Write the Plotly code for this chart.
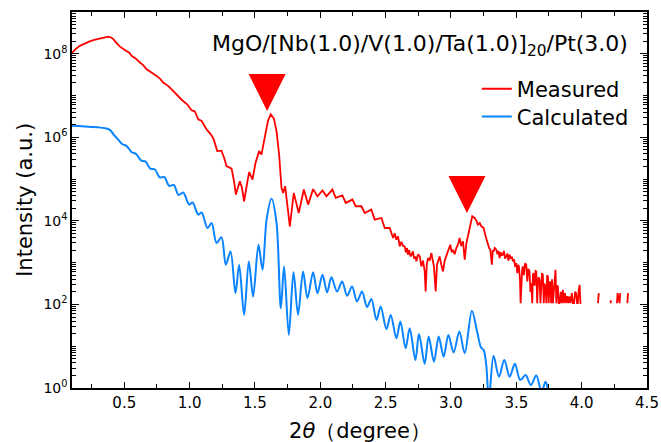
import plotly.graph_objects as go

# ---------------- data ----------------
# Measured curve: 2theta (deg) and log10(intensity); None = zero counts (not drawn on a log axis)
meas_x = [0.100, 0.130, 0.160, 0.190, 0.230, 0.270, 0.310, 0.350, 0.378, 0.400,
          0.416, 0.440, 0.467, 0.490, 0.518, 0.540, 0.556, 0.590, 0.620, 0.645,
          0.671, 0.715, 0.748, 0.775, 0.798, 0.840, 0.874, 0.905, 0.939, 0.981,
          1.015, 1.040, 1.066, 1.092, 1.130, 1.165, 1.185, 1.211, 1.244, 1.265,
          1.283, 1.321, 1.340, 1.354, 1.384, 1.400, 1.417, 1.440, 1.456, 1.481,
          1.505, 1.532, 1.550, 1.575, 1.600, 1.621, 1.645, 1.665, 1.685, 1.703,
          1.716, 1.731, 1.754, 1.767, 1.797, 1.835, 1.874, 1.907, 1.945, 1.978,
          2.017, 2.047, 2.093, 2.118, 2.169, 2.195, 2.246, 2.271, 2.315, 2.340,
          2.391, 2.416, 2.468, 2.493, 2.531, 2.557, 2.570, 2.582, 2.595, 2.602,
          2.608, 2.620, 2.633, 2.646, 2.655, 2.664, 2.671, 2.680, 2.690, 2.700,
          2.709, 2.718, 2.727, 2.735, 2.748, 2.761, 2.768, 2.773, 2.786, 2.799,
          2.806, 2.815, 2.824, 2.837, 2.850, 2.862, 2.870, 2.883, 2.893, 2.903,
          2.913, 2.926, 2.939, 2.952, 2.965, 2.980, 2.995, 3.005, 3.015, 3.028,
          3.041, 3.055, 3.066, 3.079, 3.092, 3.105, 3.118, 3.138, 3.163, 3.181,
          3.195, 3.206, 3.220, 3.232, 3.250, 3.265, 3.283, 3.292, 3.301, 3.313,
          3.320, 3.326, 3.335, 3.347, 3.356, 3.364, 3.372, 3.380, 3.389, 3.397,
          3.405, 3.414, 3.423, 3.432, 3.440, 3.449, 3.457, 3.466, 3.474, 3.483,
          3.491, 3.500, 3.508, 3.515, 3.520, 3.528, 3.533, 3.538, 3.545, 3.550,
          3.558, 3.566, 3.576, 3.584, 3.592, 3.601, 3.608, 3.615, 3.622, 3.627,
          3.632, 3.640, 3.647, 3.653, 3.660, 3.666, 3.672, 3.678, 3.685, 3.690,
          3.697, 3.703, 3.710, 3.716, 3.724, 3.730, 3.736, 3.742, 3.748, 3.754,
          3.760, 3.767, 3.773, 3.780, 3.790, 3.800, 3.806, 3.812, 3.818, 3.824,
          3.831, 3.840, 3.848, 3.856, 3.864, 3.872, 3.882, 3.890, 3.898, 3.907,
          3.915, 3.925, 3.933, 3.942, 3.950, 3.958, 3.965, 3.971, 3.978, 3.984,
          3.991, 3.997, 4.060, 4.125, 4.131, 4.180, 4.220, 4.225, 4.250, 4.270,
          4.275, 4.290, 4.295, 4.320, 4.350, 4.355]
meas_log = [8.02, 8.12, 8.19, 8.24, 8.29, 8.33, 8.36, 8.39, 8.41, 8.39,
            8.35, 8.26, 8.17, 8.12, 8.07, 8.02, 7.95, 7.88, 7.79, 7.73,
            7.63, 7.55, 7.47, 7.40, 7.31, 7.22, 7.11, 7.00, 6.90, 6.79,
            6.65, 6.62, 6.43, 6.39, 6.19, 6.06, 5.95, 5.67, 5.68, 5.50,
            5.31, 5.25, 4.95, 4.63, 4.95, 4.80, 4.47, 4.90, 5.17, 4.99,
            5.40, 5.67, 5.59, 6.00, 6.40, 6.55, 6.45, 6.15, 5.59, 4.79,
            4.67, 4.83, 4.30, 3.87, 4.67, 4.19, 4.75, 4.39, 4.76, 4.59,
            4.73, 4.59, 4.75, 4.55, 4.61, 4.43, 4.51, 4.35, 4.35, 4.19,
            4.27, 4.03, 4.07, 3.83, 3.83, 3.59, 3.70, 3.55, 3.63, 3.45,
            3.39, 3.50, 3.40, 3.39, 3.25, 3.35, 3.19, 3.30, 3.15, 3.20,
            3.27, 3.10, 3.15, 3.03, 3.20, 3.15, 2.95, 2.91, 3.05, 2.79,
            2.31, 2.95, 3.11, 3.05, 3.23, 3.00, 2.90, 2.31, 2.95, 3.05,
            3.15, 2.95, 2.79, 3.05, 3.19, 3.30, 3.43, 3.25, 3.31, 3.20,
            3.35, 3.45, 3.59, 3.40, 3.51, 3.07, 3.47, 3.79, 4.11, 4.07,
            4.00, 3.91, 3.95, 3.87, 3.83, 3.63, 3.43, 3.35, 3.31, 2.95,
            3.30, 3.27, 3.35, 3.31, 3.20, 3.28, 3.11, 3.25, 3.18, 3.19,
            3.28, 3.10, 3.15, 3.22, 3.05, 3.19, 3.10, 3.14, 3.03, 3.08,
            2.90, 2.99, 2.75, 2.95, 2.91, 2.60, 2.03, 2.60, 2.85, 2.91,
            2.70, 2.98, 2.95, 2.55, 2.85, 2.79, 2.30, 2.51, 2.03, 2.70,
            2.75, 2.45, 2.80, 2.79, 2.03, 2.55, 2.65, 2.59, 2.03, 2.40,
            2.75, 2.71, 2.03, 2.50, 2.39, 2.03, 2.70, 2.67, 2.03, 2.55,
            2.51, 2.03, 2.60, 2.03, 2.40, 2.83, 2.03, 2.45, 2.43, 2.03,
            2.03, 2.30, 2.03, 2.35, 2.03, 2.27, 2.03, 2.20, 2.03, 2.19,
            2.03, 2.27, 2.03, 2.03, 2.30, 2.27, 2.03, 2.03, 2.35, 2.47,
            2.03, 2.03, None, 2.03, 2.27, None, 2.03, 2.10, None, 2.03,
            2.27, 2.03, 2.27, None, 2.03, 2.27]

# Calculated curve
calc_x = [0.100, 0.150, 0.200, 0.250, 0.300, 0.350, 0.390, 0.420, 0.447, 0.483,
          0.519, 0.555, 0.591, 0.627, 0.663, 0.699, 0.735, 0.771, 0.807, 0.843,
          0.879, 0.915, 0.951, 0.997, 1.023, 1.066, 1.092, 1.137, 1.168, 1.206,
          1.244, 1.277, 1.313, 1.351, 1.379, 1.417, 1.453, 1.486, 1.527, 1.558,
          1.589, 1.627, 1.665, 1.698, 1.723, 1.759, 1.795, 1.830, 1.868, 1.902,
          1.945, 1.978, 2.017, 2.052, 2.085, 2.128, 2.167, 2.205, 2.243, 2.281,
          2.319, 2.358, 2.391, 2.430, 2.462, 2.506, 2.539, 2.582, 2.613, 2.653,
          2.684, 2.728, 2.755, 2.799, 2.829, 2.870, 2.906, 2.944, 2.980, 3.020,
          3.064, 3.105, 3.160, 3.200, 3.230, 3.250, 3.270, 3.290, 3.326, 3.367,
          3.408, 3.449, 3.489, 3.530, 3.571, 3.611, 3.653, 3.693, 3.724, 3.760,
          3.800]
calc_log = [6.28, 6.27, 6.26, 6.25, 6.24, 6.22, 6.18, 6.06, 5.97, 5.84,
            5.79, 5.65, 5.60, 5.45, 5.42, 5.25, 5.23, 5.04, 5.05, 4.84,
            4.86, 4.62, 4.68, 4.39, 4.44, 4.15, 4.20, 3.83, 3.95, 3.47,
            3.61, 2.95, 3.27, 2.27, 2.95, 1.75, 3.03, 2.19, 3.43, 2.83,
            4.03, 4.53, 3.95, 1.91, 2.91, 1.27, 2.77, 1.75, 2.79, 2.15,
            2.77, 2.27, 2.71, 2.29, 2.65, 2.31, 2.55, 2.21, 2.43, 2.07,
            2.31, 1.94, 2.13, 1.63, 1.95, 1.41, 1.75, 1.19, 1.59, 0.95,
            1.43, 0.67, 1.29, 0.58, 1.23, 0.63, 1.23, 0.75, 1.27, 0.85,
            1.35, 0.83, 1.85, 1.35, 0.97, 0.91, 0.55, -0.30, 0.77, 0.27,
            0.67, 0.27, 0.58, 0.19, 0.31, 0.07, 0.30, -0.10, 0.15, -0.20,
            0.00]

# Bragg peak markers (2theta, log10 intensity at the tip)
peak_x = [1.593, 3.122]
peak_log = [6.63, 4.19]

x_ticks = [0.5, 1.0, 1.5, 2.0, 2.5, 3.0, 3.5, 4.0, 4.5]
x_ticktext = ["0.5", "1.0", "1.5", "2.0", "2.5", "3.0", "3.5", "4.0", "4.5"]
y_label_decades = [0, 2, 4, 6, 8]

# ---------------- figure ----------------
RED = "#FF0000"
BLUE = "#0A84FF"
FONT = "DejaVu Sans"

meas_y = [None if v is None else 10 ** v for v in meas_log]
calc_y = [10 ** v for v in calc_log]
peak_y = [10 ** v for v in peak_log]

fig = go.Figure()
fig.add_trace(go.Scatter(x=calc_x, y=calc_y, mode="lines", name="Calculated",
                         line=dict(color=BLUE, width=2, shape="spline", smoothing=0.9),
                         showlegend=False))
fig.add_trace(go.Scatter(x=meas_x, y=meas_y, mode="lines", name="Measured",
                         line=dict(color=RED, width=1.8), connectgaps=False,
                         legend="legend"))
fig.add_trace(go.Scatter(x=[None], y=[None], mode="lines", name="Calculated",
                         line=dict(color=BLUE, width=2), legend="legend2"))
fig.add_trace(go.Scatter(x=peak_x, y=peak_y, mode="markers", showlegend=False,
                         marker=dict(symbol="arrow-down", size=37, color=RED,
                                     line=dict(width=0))))

ytickvals = [10 ** d for d in y_label_decades]
yticktext = [f"10<sup>{d}</sup>" for d in y_label_decades]

legend_style = dict(xanchor="left", yanchor="middle", bgcolor="rgba(0,0,0,0)",
                    font=dict(size=21, family=FONT), itemwidth=30)

fig.update_layout(
    width=661, height=442,
    margin=dict(l=72, r=14, t=12, b=54, autoexpand=False),
    paper_bgcolor="white", plot_bgcolor="white",
    font=dict(family=FONT, color="black"),
    showlegend=True,
    hovermode=False,
    legend=dict(x=0.704, y=0.795, **legend_style),
    legend2=dict(x=0.704, y=0.721, **legend_style),
    annotations=[
        dict(text="MgO/[Nb(1.0)/V(1.0)/Ta(1.0)]<sub>20</sub>/Pt(3.0)",
             xref="paper", yref="paper", x=0.970, y=0.912,
             xanchor="right", yanchor="middle", showarrow=False,
             font=dict(size=22, family=FONT)),
        dict(text="Intensity (a.u.)", textangle=-90,
             xref="paper", yref="paper", x=-0.082, y=0.5,
             xanchor="center", yanchor="middle", showarrow=False,
             font=dict(size=21, family=FONT)),
        dict(text="2<i>θ</i>（degree）",
             xref="paper", yref="paper", x=0.5, y=-0.114,
             xanchor="center", yanchor="middle", showarrow=False,
             font=dict(size=21, family=FONT)),
    ],
)
fig.update_xaxes(range=[0.1, 4.5], tickvals=x_ticks, ticktext=x_ticktext,
                 ticks="inside", ticklen=6, tickwidth=1.2, tickcolor="black",
                 minor=dict(dtick=0.25, tick0=0, ticks="inside", ticklen=4, tickcolor="black"),
                 showline=True, linecolor="black", linewidth=1.5, mirror="ticks",
                 showgrid=False, zeroline=False, automargin=False,
                 tickfont=dict(size=15, family=FONT))
fig.update_yaxes(type="log", range=[0, 9], tickmode="array", tickvals=ytickvals, ticktext=yticktext,
                 ticks="inside", ticklen=7, tickwidth=1.2, tickcolor="black",
                 minor=dict(dtick="D1", ticks="inside", ticklen=4, tickcolor="black"),
                 showline=True, linecolor="black", linewidth=1.5, mirror="ticks",
                 showgrid=False, zeroline=False, automargin=False,
                 tickfont=dict(size=14, family=FONT))

fig.write_html("out.html", config={"displayModeBar": False},
               post_script="document.body.style.margin='0';document.body.style.padding='0';")
